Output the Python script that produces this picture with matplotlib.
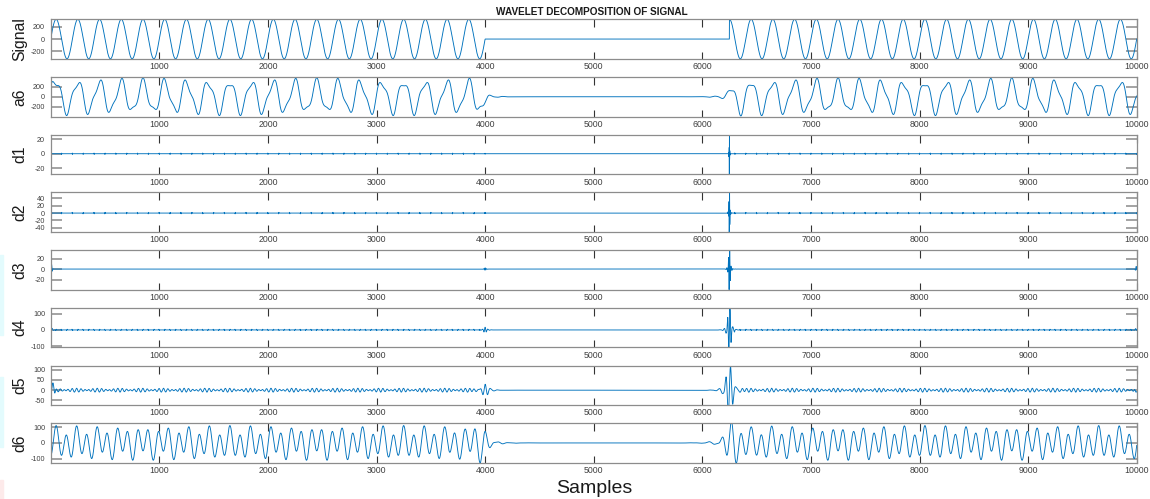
import numpy as np
import matplotlib.pyplot as plt
from matplotlib.patches import Rectangle

plt.rcParams['font.family'] = ['Liberation Sans', 'DejaVu Sans']

fs = 10000                      # samples per second
n = np.arange(1, 10001)         # sample index
N = len(n)

# --- values ---
sig_amp = 325                   # peak of the signal
sig_period = 200                # samples per cycle (50 Hz)
off_start, off_end = 4000, 6250 # signal is zero in between

# aliasing seen in a6 / d6 and d5 ripple
alias6_amp, alias6_freq, alias6_phase = 80, 106.25, -1.767
leak6_amp = 30
alias5_amp, alias5_freq = 6, 262.5
alias5b_amp, alias5b_freq = 3.5, 212.5

# peak size of the transient in each detail level
peak_targets = {'d1': 28, 'd2': 56, 'd3': 39, 'd4': 135, 'd5': 112, 'd6': 70}

# small spikes at the zero crossings (panel, spacing, height, half width)
blips = [('d1', 100, 1.0, 1), ('d2', 100, 2.0, 2), ('d4', 50, 4.0, 5)]

# edge effects (panel, centre sample, height, period, width)
edge_bursts = [('a6', 5, 120, 1e9, 30), ('d2', 5, 5, 8, 5),
               ('d3', 8, 9, 16, 8), ('d3', 9995, 5, 16, 8),
               ('d4', 12, 10, 30, 12), ('d4', 9990, 8, 30, 12),
               ('d5', 22, 40, 45, 20), ('d5', 9992, -15, 45, 12)]

names = ['Signal', 'a6', 'd1', 'd2', 'd3', 'd4', 'd5', 'd6']
ylims = [(-325, 325), (-390, 390), (-28, 26), (-51, 56),
         (-39, 36), (-106, 135), (-72, 120), (-125, 125)]
yticks = [[-200, 0, 200], [-200, 0, 200], [-20, 0, 20], [-40, -20, 0, 20, 40],
          [-20, 0, 20], [-100, 0, 100], [-50, 0, 50, 100], [-100, 0, 100]]
xticks = list(range(1000, 10001, 1000))

# --- build the curves ---
on = (n < off_start) | (n >= off_end)
S = np.where(on, sig_amp * np.sin(2 * np.pi * n / sig_period), 0.0)

f = np.fft.rfftfreq(N, d=1 / fs)
F = np.fft.rfft(S)


def lowpass(fc):
    lo, hi = 0.75 * fc, 1.35 * fc
    w = np.clip((hi - f) / (hi - lo), 0, 1)
    return 0.5 - 0.5 * np.cos(np.pi * w)


L = [np.ones_like(f)] + [lowpass(fs / 2 ** (k + 1)) for k in range(1, 7)]
curves = {'Signal': S, 'a6': np.fft.irfft(F * L[6], n=N)}
for k in range(1, 7):
    d = np.fft.irfft(F * (L[k - 1] - L[k]), n=N)
    curves['d%d' % k] = d * peak_targets['d%d' % k] / np.abs(d).max()

env = np.fft.irfft(np.fft.rfft(on.astype(float)) * lowpass(50), n=N)
alias6 = env * (alias6_amp * np.sin(2 * np.pi * alias6_freq * n / fs + alias6_phase)
                + leak6_amp * np.sin(2 * np.pi * n / sig_period))
curves['d6'] = curves['d6'] + alias6
curves['a6'] = curves['a6'] - alias6
curves['d5'] = curves['d5'] + env * (alias5_amp * np.sin(2 * np.pi * alias5_freq * n / fs)
                                     + alias5b_amp * np.sin(2 * np.pi * alias5b_freq * n / fs + 1.0))

for name, step, h, w in blips:
    y = curves[name]
    for i, p in enumerate(np.where((n % step == 0) & on)[0]):
        k = np.arange(max(p - w, 0), min(p + w + 1, N))
        y[k] += h * (-1) ** i * np.sin(np.pi * (k - p) / (w + 1) + 0.5)

for name, c, h, per, w in edge_bursts:
    curves[name] = curves[name] + h * np.exp(-((n - c) / w) ** 2) * np.cos(2 * np.pi * (n - c) / per)

# --- draw ---
fig = plt.figure(figsize=(11.5, 4.99), dpi=100)
W, H = 1150, 499
left, right = 50.7, 1136.7
for i, name in enumerate(names):
    top = 19.3 + 57.7 * i
    ax = fig.add_axes([left / W, 1 - (top + 39.5) / H, (right - left) / W, 39.5 / H])
    ax.plot(n, curves[name], color='#0072BD', lw=0.65)
    ax.set_xlim(0, 10000)
    ax.set_ylim(*ylims[i])
    ax.set_xticks(xticks)
    ax.set_yticks(yticks[i])
    ax.set_xticklabels([str(t) for t in xticks], fontsize=6.3, color='#404040')
    ax.set_yticklabels([str(t) for t in yticks[i]], fontsize=5.2, color='#404040')
    ax.tick_params(axis='x', direction='in', top=True, length=5.4, width=0.8, color='#333333', pad=2.5)
    ax.tick_params(axis='y', direction='in', right=True, length=8, width=1.1, color='#8a8a8a', pad=4)
    for sp in ax.spines.values():
        sp.set_color('#8c8c8c')
        sp.set_linewidth(0.9)
    ax.text(-0.0285, 0.5, name, transform=ax.transAxes, rotation=90,
            ha='center', va='center', fontsize=11.3, color='#1a1a1a')

fig.text(591.7 / W, 1 - 15 / H, 'WAVELET DECOMPOSITION OF SIGNAL', ha='center',
         va='baseline', fontsize=7.2, weight='bold', color='#1a1a1a')
fig.text(594 / W, 1 - 493 / H, 'Samples', ha='center', va='baseline', fontsize=14, color='#1a1a1a')

# faint colour strips at the left edge of the screenshot
for y0, y1, c in [(255, 335, '#e3fbfd'), (377, 447, '#e3fbfd'), (480, 499, '#fdeaea')]:
    fig.patches.append(Rectangle((0, 1 - y1 / H), 3 / W, (y1 - y0) / H,
                                 transform=fig.transFigure, color=c, zorder=0))

fig.savefig('out.png', dpi=100)
